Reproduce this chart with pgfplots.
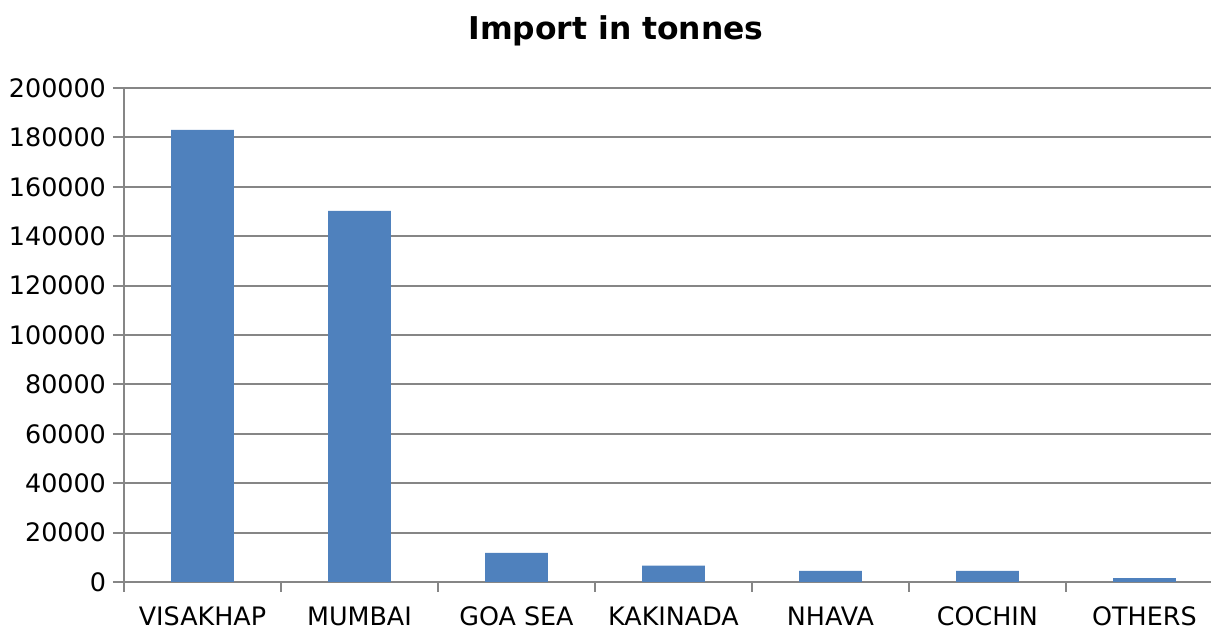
\documentclass[border=0pt]{standalone}
\usepackage{fontspec}
\setmainfont{DejaVu Sans}
\usepackage{pgfplots}
\pgfplotsset{compat=1.18}
\definecolor{barblue}{RGB}{79,129,189}
\definecolor{gridgray}{RGB}{134,134,134}

\begin{document}
\begin{tikzpicture}
\useasboundingbox (0,0) rectangle (605.5pt,315pt);
\node[font=\bfseries\fontsize{15.7}{18}\selectfont] at (308pt,299.5pt) {Import in tonnes};
\begin{axis}[
    at={(62pt,24pt)}, anchor=south west,
    scale only axis,
    width=543.5pt,
    height=247pt,
    ybar, bar width=0.4,
    xmin=-0.5, xmax=6.424,
    ymin=0, ymax=200000,
    ytick={0,20000,...,200000},
    scaled y ticks=false,
    /pgf/number format/assume math mode=true,
    yticklabel style={/pgf/number format/fixed, /pgf/number format/set thousands separator={}},
    xtick={0,...,6},
    xticklabels={VISAKHAP,MUMBAI,GOA SEA,KAKINADA,NHAVA,COCHIN,OTHERS},
    xticklabel style={yshift=-6.3pt, inner sep=0.5pt, text height=9.3pt, text depth=0pt},
    minor xtick={-0.5,0.5,...,6.5},
    major x tick style={draw=none},
    minor x tick style={gridgray, line width=1pt},
    y tick style={gridgray, line width=1pt},
    tick align=outside,
    major tick length=5.5pt,
    minor tick length=5pt,
    axis lines*=left,
    axis line style={gridgray, line width=1pt},
    ymajorgrids,
    grid style={gridgray, line width=1pt},
    tick label style={font=\fontsize{12.7}{15}\selectfont, black},
]
\addplot[fill=barblue, draw=none] coordinates {
    (0, 183000)
    (1, 150200)
    (2, 11800)
    (3, 6600)
    (4, 4500)
    (5, 4500)
    (6, 1600)
};
\end{axis}
\end{tikzpicture}
\end{document}
